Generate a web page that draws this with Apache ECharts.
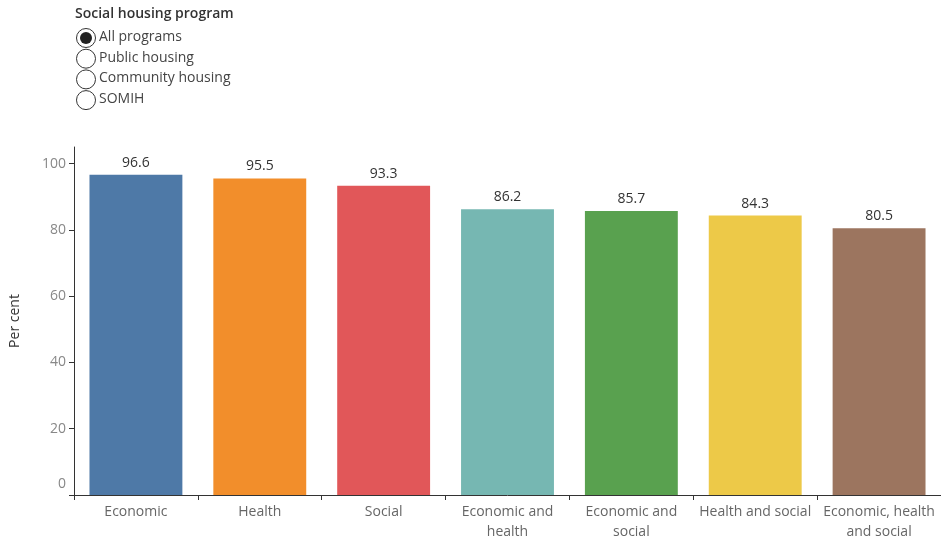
<!DOCTYPE html>
<html><head><meta charset="utf-8">
<script src="https://cdn.jsdelivr.net/npm/echarts@6/dist/echarts.min.js"></script>
<style>html,body{margin:0;padding:0;background:#fff}#c{width:941px;height:542px}</style>
</head><body><div id="c"></div>
<script>
const categories = ['Economic', 'Health', 'Social', 'Economic and\nhealth', 'Economic and\nsocial', 'Health and social', 'Economic, health\nand social'];
const values = [96.6, 95.5, 93.3, 86.2, 85.7, 84.3, 80.5];
const barColors = ['#4e79a7', '#f28e2b', '#e15759', '#76b7b2', '#59a14f', '#edc948', '#9c755f'];
const programOptions = ['All programs', 'Public housing', 'Community housing', 'SOMIH'];
const legendTitle = 'Social housing program';
const yAxisName = 'Per cent';

const FONT = '"Open Sans", "Noto Sans", sans-serif';
const chart = echarts.init(document.getElementById('c'));

const graphics = [{
  type: 'text', left: 75, top: 7,
  style: { text: legendTitle, font: '600 14px ' + FONT, fill: '#333' }
}];
programOptions.forEach((p, i) => {
  const cy = 38 + i * 20.7;
  graphics.push({ type: 'circle', shape: { cx: 86, cy: cy, r: 9.5 }, style: { fill: '#fff', stroke: '#333', lineWidth: 1 } });
  if (i === 0) graphics.push({ type: 'circle', shape: { cx: 86, cy: cy, r: 6 }, style: { fill: '#222' } });
  graphics.push({ type: 'text', left: 99, top: cy - 8, style: { text: p, font: '14px ' + FONT, fill: '#444' } });
});

chart.setOption({
  animation: false,
  textStyle: { fontFamily: FONT },
  graphic: graphics,
  grid: { left: 70, right: 0, top: 147, bottom: 44, containLabel: false },
  xAxis: {
    type: 'category', data: categories,
    axisLine: { lineStyle: { color: '#333', width: 1 } },
    axisTick: { show: true, length: 5, lineStyle: { color: '#333' } },
    axisLabel: { color: '#666', fontSize: 14, margin: 7, lineHeight: 20, interval: 0 }
  },
  yAxis: {
    type: 'value', min: 0, max: 105, interval: 20,
    name: yAxisName, nameLocation: 'middle', nameGap: 52, nameRotate: 90,
    nameTextStyle: { color: '#333', fontSize: 14 },
    axisLine: { show: true, lineStyle: { color: '#333' } },
    axisTick: { show: true, length: 5, lineStyle: { color: '#333' } },
    splitLine: { show: false },
    axisLabel: {
      color: '#888', fontSize: 14, margin: 8,
      showMaxLabel: false,
      formatter: v => v === 0 ? '{z|0}' : String(v),
      rich: { z: { color: '#888', fontSize: 14, padding: [0, 0, 22, 0] } }
    }
  },
  series: [{
    type: 'bar', barWidth: '75%',
    data: values.map((v, i) => ({ value: v, itemStyle: { color: barColors[i] } })),
    label: { show: true, position: 'top', distance: 5, color: '#333', fontSize: 14, formatter: p => p.value.toFixed(1) }
  }]
});
</script></body></html>
